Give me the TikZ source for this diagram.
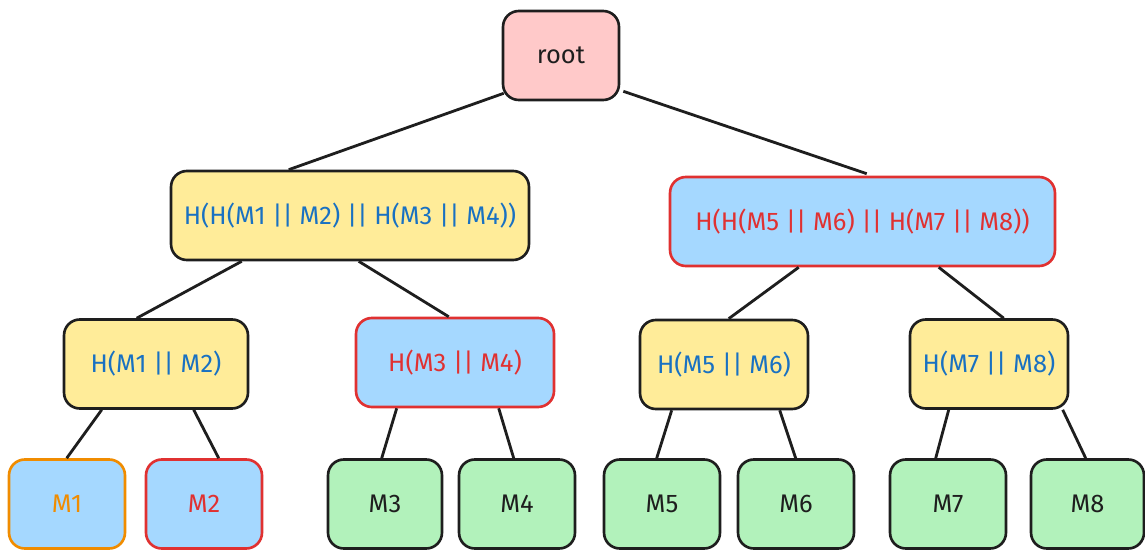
\documentclass[tikz,border=0pt]{standalone}
\usepackage{fontspec}
\setmainfont{Fira Sans}
\definecolor{ink}{HTML}{1E1E1E}
\definecolor{hred}{HTML}{E03131}
\definecolor{hblue}{HTML}{1971C2}
\definecolor{horange}{HTML}{F08C00}
\definecolor{fyellow}{HTML}{FFEC99}
\definecolor{fblue}{HTML}{A5D8FF}
\definecolor{fpink}{HTML}{FFC9C9}
\definecolor{fgreen}{HTML}{B2F2BB}
\begin{document}
\begin{tikzpicture}[x=0.02cm,y=-0.02cm,
    box/.style={draw=ink,rounded corners=9pt,line width=1.5pt,minimum height=1.78cm,inner sep=0pt,font=\fontsize{14.5}{16}\selectfont},
    yellowbox/.style={box,fill=fyellow,text=hblue},
    bluebox/.style={box,fill=fblue,draw=hred,text=hred},
    leaf/.style={box,fill=fgreen,text=ink,minimum width=2.32cm},
    edge/.style={draw=ink,line width=1.6pt}]
   \useasboundingbox (0,0) rectangle (1145,550);
   \node[box,fill=fpink,text=ink,minimum width=2.32cm] (root) at (561,55.5) {root};
   \node[yellowbox,minimum width=7.16cm] (h1234) at (350,215.5) {H(H(M1 || M2) || H(M3 || M4))};
   \node[bluebox,minimum width=7.7cm] (h5678) at (862.5,221.5) {H(H(M5 || M6) || H(M7 || M8))};
   \node[yellowbox,minimum width=3.68cm] (h12) at (156,364) {H(M1 || M2)};
   \node[bluebox,minimum width=3.96cm] (h34) at (455,362.5) {H(M3 || M4)};
   \node[yellowbox,minimum width=3.36cm] (h56) at (724,364.5) {H(M5 || M6)};
   \node[yellowbox,minimum width=3.16cm] (h78) at (989,364) {H(M7 || M8)};
   \node[box,fill=fblue,draw=horange,text=horange,minimum width=2.32cm] (m1) at (67,504) {M1};
   \node[bluebox,minimum width=2.32cm] (m2) at (204,504) {M2};
   \node[leaf,minimum width=2.28cm] (m3) at (385,504) {M3};
   \node[leaf] (m4) at (517,504) {M4};
   \node[leaf] (m5) at (662,504) {M5};
   \node[leaf] (m6) at (796,504) {M6};
   \node[leaf] (m7) at (948,504) {M7};
   \node[leaf,minimum width=2.26cm] (m8) at (1087.5,504) {M8};
   \draw[edge] ([shift={(2,-8)}]root.south west) -- ([shift={(119,0)}]h1234.north west);
   \draw[edge] ([shift={(3,-10)}]root.south east) -- ([shift={(198,-2)}]h5678.north west);
   \draw[edge] ([shift={(72,0)}]h1234.south west) -- ([shift={(74,0)}]h12.north west);
   \draw[edge] ([shift={(189,0)}]h1234.south west) -- ([shift={(94,0)}]h34.north west);
   \draw[edge] ([shift={(130,0)}]h5678.south west) -- ([shift={(90,0)}]h56.north west);
   \draw[edge] ([shift={(270,0)}]h5678.south west) -- ([shift={(95,0)}]h78.north west);
   \draw[edge] ([shift={(39,0)}]h12.south west) -- ([shift={(59,0)}]m1.north west);
   \draw[edge] ([shift={(131,0)}]h12.south west) -- ([shift={(74,0)}]m2.north west);
   \draw[edge] ([shift={(42,0)}]h34.south west) -- ([shift={(55,0)}]m3.north west);
   \draw[edge] ([shift={(144,0)}]h34.south west) -- ([shift={(56,0)}]m4.north west);
   \draw[edge] ([shift={(33,0)}]h56.south west) -- ([shift={(54,0)}]m5.north west);
   \draw[edge] ([shift={(141,0)}]h56.south west) -- ([shift={(59,0)}]m6.north west);
   \draw[edge] ([shift={(40,0)}]h78.south west) -- ([shift={(47,0)}]m7.north west);
   \draw[edge] ([shift={(154,0)}]h78.south west) -- ([shift={(56,0)}]m8.north west);
\end{tikzpicture}
\end{document}
